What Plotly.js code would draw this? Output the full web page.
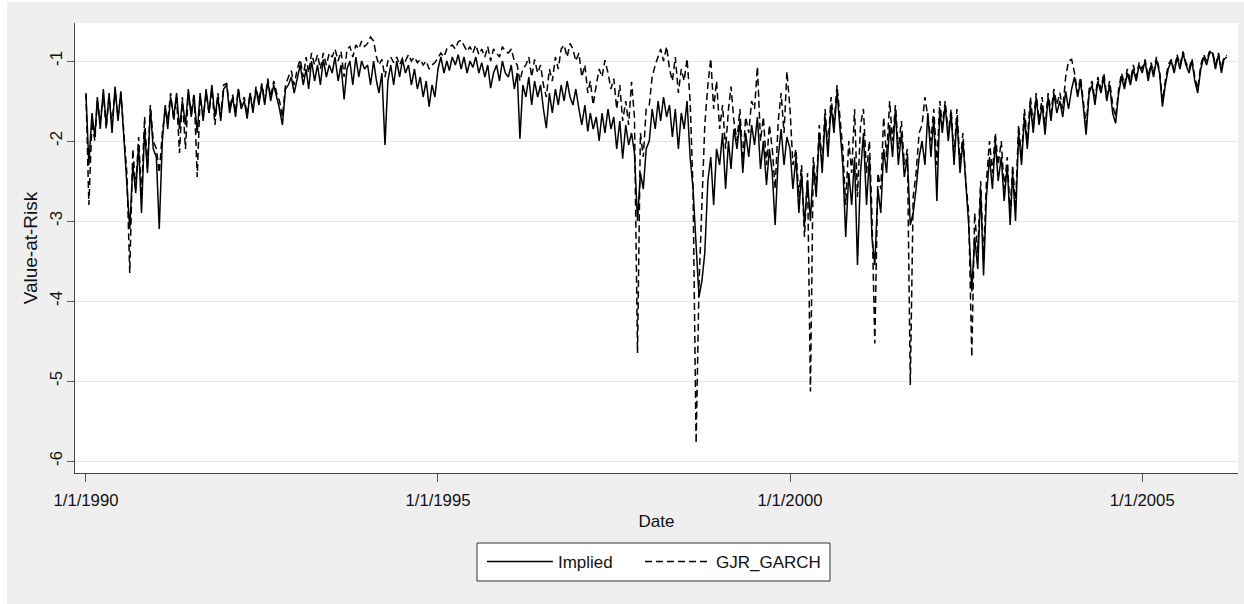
<!DOCTYPE html>
<html>
<head>
<meta charset="utf-8">
<script src="https://cdn.plot.ly/plotly-3.0.1.min.js"></script>
<style>
  html, body { margin: 0; padding: 0; background: #ffffff; }
  #chart { position: absolute; left: 7px; top: 2px; width: 1237px; height: 602px; }
</style>
</head>
<body>
<div id="chart"></div>
<script>
// Semi-monthly observations (1st and 16th of each month), starting 1990-01-01
const startYear = 1990;

// Implied-volatility based Value-at-Risk (solid line)
const implied = [
  /*1990*/ -1.42, -2.30, -1.65, -1.95, -1.45, -1.85, -1.35, -1.80, -1.40, -1.90, -1.32, -1.75, -1.38, -1.95, -2.55, -3.10, -2.30, -2.65, -2.05, -2.90, -1.85, -2.40, -1.60, -2.10,
  /*1991*/ -2.20, -3.10, -2.00, -1.55, -1.85, -1.45, -1.70, -1.40, -1.85, -1.50, -1.80, -1.35, -1.70, -1.45, -1.90, -1.40, -1.75, -1.35, -1.65, -1.30, -1.70, -1.45, -1.75, -1.35,
  /*1992*/ -1.30, -1.65, -1.45, -1.70, -1.35, -1.60, -1.50, -1.72, -1.40, -1.65, -1.35, -1.55, -1.30, -1.55, -1.25, -1.50, -1.30, -1.45, -1.60, -1.80, -1.35, -1.30, -1.20, -1.40,
  /*1993*/ -1.20, -1.05, -1.30, -1.10, -1.35, -1.00, -1.25, -1.05, -1.30, -0.98, -1.20, -1.05, -1.15, -0.95, -1.25, -1.05, -1.48, -1.10, -1.00, -1.30, -0.95, -1.20, -1.00, -1.10,
  /*1994*/ -1.05, -1.30, -1.00, -1.25, -1.40, -1.15, -2.05, -1.25, -1.05, -1.30, -1.00, -1.20, -0.98, -1.15, -1.05, -1.30, -1.10, -1.35, -1.20, -1.45, -1.25, -1.57, -1.30, -1.45,
  /*1995*/ -1.10, -0.95, -1.15, -1.00, -1.12, -0.95, -1.05, -0.92, -1.10, -0.95, -1.15, -1.00, -1.08, -0.95, -1.15, -1.02, -1.20, -1.05, -1.34, -1.15, -1.05, -1.25, -1.00, -1.15,
  /*1996*/ -1.20, -1.05, -1.35, -1.15, -1.97, -1.30, -1.45, -1.20, -1.55, -1.25, -1.45, -1.30, -1.60, -1.84, -1.40, -1.65, -1.35, -1.55, -1.30, -1.50, -1.25, -1.45, -1.55, -1.35,
  /*1997*/ -1.60, -1.80, -1.55, -1.88, -1.65, -1.85, -1.70, -2.00, -1.65, -1.90, -1.60, -1.85, -1.70, -2.10, -1.75, -2.22, -1.80, -2.05, -1.90, -2.15, -3.00, -2.40, -2.60, -2.10,
  /*1998*/ -2.00, -1.60, -1.85, -1.50, -1.75, -1.45, -1.70, -1.55, -1.95, -1.60, -2.10, -1.65, -1.85, -1.50, -2.20, -2.60, -3.30, -3.95, -3.75, -3.40, -2.50, -2.20, -2.80, -2.10,
  /*1999*/ -2.30, -1.90, -2.60, -2.00, -2.35, -1.85, -2.10, -1.75, -2.40, -1.90, -2.20, -1.80, -2.05, -1.70, -2.35, -2.00, -2.55, -2.10, -2.40, -3.05, -2.20, -1.85, -2.30, -1.95,
  /*2000*/ -2.10, -2.60, -2.20, -2.90, -2.40, -3.05, -2.50, -3.00, -2.30, -2.70, -1.90, -2.40, -1.70, -2.20, -1.55, -1.90, -1.38, -1.80, -2.30, -3.20, -2.40, -2.80, -2.20, -3.55,
  /*2001*/ -2.40, -1.90, -2.80, -2.20, -3.20, -3.55, -2.60, -2.90, -2.10, -2.40, -1.80, -2.20, -1.60, -2.30, -1.90, -2.45, -2.20, -3.05, -2.90, -2.60, -2.20, -2.00, -2.30, -1.65,
  /*2002*/ -2.20, -1.70, -2.75, -1.60, -1.90, -1.55, -2.00, -1.65, -2.30, -1.70, -2.40, -2.00, -2.60, -3.05, -3.88, -3.20, -3.60, -2.60, -3.68, -2.70, -2.20, -2.60, -2.00, -2.50,
  /*2003*/ -2.20, -2.75, -2.30, -3.05, -2.40, -3.00, -1.90, -2.30, -1.70, -2.10, -1.55, -1.90, -1.45, -1.80, -1.55, -1.92, -1.45, -1.75, -1.40, -1.65, -1.50, -1.70, -1.38, -1.60,
  /*2004*/ -1.35, -1.20, -1.45, -1.25, -1.55, -1.92, -1.40, -1.30, -1.55, -1.25, -1.40, -1.20, -1.50, -1.30, -1.65, -1.78, -1.40, -1.20, -1.35, -1.15, -1.30, -1.10, -1.25, -1.05,
  /*2005*/ -1.15, -1.00, -1.25, -1.05, -1.20, -0.98, -1.15, -1.57, -1.30, -1.10, -1.00, -1.15, -0.95, -1.10, -0.90, -1.05, -1.15, -1.00, -1.25, -1.40, -1.10, -0.95, -1.05, -0.90,
  /*2006*/ -0.90, -1.10, -0.92, -1.15, -0.98, -0.95
];

// GJR-GARCH based Value-at-Risk (dashed line)
const gjrGarch = [
  /*1990*/ -1.40, -2.80, -1.75, -2.00, -1.50, -1.75, -1.42, -1.85, -1.45, -1.80, -1.35, -1.70, -1.40, -1.85, -2.40, -3.65, -2.10, -2.60, -1.95, -2.70, -1.70, -2.35, -1.55, -2.00,
  /*1991*/ -2.10, -2.40, -1.90, -1.60, -1.75, -1.40, -1.75, -1.45, -2.15, -1.45, -2.10, -1.40, -1.65, -1.40, -2.45, -1.45, -1.70, -1.40, -1.65, -1.35, -1.80, -1.40, -1.70, -1.30,
  /*1992*/ -1.28, -1.60, -1.42, -1.65, -1.35, -1.55, -1.45, -1.68, -1.40, -1.60, -1.32, -1.50, -1.28, -1.50, -1.22, -1.45, -1.25, -1.40, -1.50, -1.70, -1.30, -1.20, -1.12, -1.30,
  /*1993*/ -1.10, -0.98, -1.20, -0.95, -1.15, -0.90, -1.05, -0.92, -1.10, -0.90, -1.05, -0.90, -0.95, -0.85, -1.00, -0.88, -1.20, -0.85, -0.82, -0.95, -0.80, -0.85, -0.75, -0.82,
  /*1994*/ -0.78, -0.70, -0.75, -0.95, -1.05, -0.98, -1.20, -1.00, -0.95, -1.02, -0.95, -1.05, -0.96, -1.00, -0.92, -1.00, -0.95, -1.02, -0.98, -1.05, -1.00, -1.10, -1.05, -1.02,
  /*1995*/ -0.95, -0.90, -0.95, -0.85, -0.82, -0.80, -0.85, -0.76, -0.74, -0.80, -0.88, -0.82, -0.90, -0.80, -0.92, -0.85, -0.95, -0.82, -1.00, -0.85, -0.90, -0.95, -0.82, -0.88,
  /*1996*/ -0.90, -0.85, -1.00, -1.05, -1.25, -1.10, -1.05, -0.95, -1.20, -0.98, -1.15, -1.05, -1.30, -1.45, -1.10, -1.25, -0.95, -1.10, -0.85, -0.80, -0.95, -0.78, -0.85, -1.00,
  /*1997*/ -0.90, -1.20, -1.05, -1.40, -1.25, -1.55, -1.30, -1.10, -1.20, -0.99, -1.15, -1.35, -1.22, -1.60, -1.30, -1.75, -1.50, -1.80, -1.26, -1.70, -4.65, -1.90, -2.20, -1.60,
  /*1998*/ -1.55, -1.20, -1.05, -0.95, -0.85, -1.00, -0.82, -1.10, -1.25, -0.95, -1.40, -1.10, -1.25, -0.97, -1.50, -2.60, -5.78, -3.80, -2.70, -1.80, -1.30, -0.97, -1.60, -1.25,
  /*1999*/ -1.85, -1.55, -2.10, -1.60, -1.32, -1.75, -2.00, -1.60, -2.25, -1.70, -1.90, -1.50, -1.60, -1.07, -2.00, -1.70, -2.30, -1.80, -2.10, -2.60, -1.75, -1.40, -1.90, -1.13,
  /*2000*/ -1.60, -2.30, -2.10, -2.70, -2.30, -3.20, -2.40, -5.13, -2.20, -2.60, -1.80, -2.30, -1.60, -2.10, -1.45, -1.80, -1.30, -1.70, -2.10, -2.80, -2.00, -2.40, -1.60, -2.70,
  /*2001*/ -1.80, -1.60, -2.40, -2.00, -2.90, -4.53, -2.40, -2.60, -1.70, -2.20, -1.50, -2.00, -1.55, -2.10, -1.75, -2.30, -2.10, -5.05, -2.70, -2.40, -1.90, -1.80, -1.45, -1.70,
  /*2002*/ -2.00, -1.60, -2.30, -1.50, -1.80, -1.50, -1.90, -1.60, -2.20, -1.60, -2.30, -1.90, -2.50, -2.90, -4.70, -2.90, -3.40, -2.50, -3.50, -2.50, -2.00, -2.40, -1.90, -2.30,
  /*2003*/ -2.00, -2.60, -2.20, -2.90, -2.30, -2.80, -1.80, -2.20, -1.60, -2.00, -1.45, -1.80, -1.40, -1.75, -1.45, -1.85, -1.40, -1.65, -1.35, -1.55, -1.40, -1.60, -1.20, -1.00,
  /*2004*/ -0.98, -1.15, -1.40, -1.20, -1.50, -1.80, -1.35, -1.25, -1.50, -1.20, -1.35, -1.15, -1.45, -1.25, -1.55, -1.70, -1.35, -1.15, -1.30, -1.10, -1.25, -1.05, -1.20, -1.02,
  /*2005*/ -1.10, -0.98, -1.20, -1.02, -1.15, -0.95, -1.12, -1.50, -1.25, -1.05, -0.98, -1.12, -0.92, -1.05, -0.88, -1.02, -1.10, -0.97, -1.20, -1.35, -1.05, -0.92, -1.00, -0.88,
  /*2006*/ -0.88, -1.05, -0.90, -1.10, -0.95, -0.93
];

const seriesNames = ['Implied', 'GJR_GARCH'];
const xTickDates = ['1990-01-01', '1995-01-01', '2000-01-01', '2005-01-01'];
const xTickLabels = ['1/1/1990', '1/1/1995', '1/1/2000', '1/1/2005'];
const yTickVals = [-6, -5, -4, -3, -2, -1];
const yTickLabels = ['-6', '-5', '-4', '-3', '-2', '-1'];

// semi-monthly date grid
const dates = [];
for (let i = 0; i < implied.length; i++) {
  const yr = startYear + Math.floor(i / 24);
  const mo = Math.floor((i % 24) / 2) + 1;
  const dy = (i % 2) ? '16' : '01';
  dates.push(yr + '-' + String(mo).padStart(2, '0') + '-' + dy);
}

const traces = [
  { x: dates, y: implied, name: seriesNames[0], type: 'scatter', mode: 'lines',
    line: { color: '#000000', width: 1.5 }, legend: 'legend' },
  { x: dates, y: gjrGarch, name: seriesNames[1], type: 'scatter', mode: 'lines',
    line: { color: '#000000', width: 1.5, dash: '7px,4px' }, legend: 'legend2' }
];

const font = 'Liberation Sans, Arial, Helvetica, sans-serif';
const txt = '#111111';
const legendFont = { family: font, size: 17, color: txt };

const layout = {
  width: 1237, height: 602,
  paper_bgcolor: '#efefef', plot_bgcolor: '#ffffff',
  margin: { l: 68, r: 6, t: 21, b: 131, pad: 0 },
  font: { family: font, size: 16.7, color: txt },
  showlegend: true,
  xaxis: {
    type: 'date', range: ['1989-11-05', '2006-05-13'],
    tickmode: 'array', tickvals: xTickDates, ticktext: xTickLabels,
    ticks: 'outside', ticklen: 8, tickwidth: 1, tickcolor: '#555555',
    ticklabelstandoff: 4,
    showline: true, linecolor: '#444444', linewidth: 1,
    showgrid: false, zeroline: false,
    tickfont: { family: font, size: 16.7, color: txt },
    title: { text: 'Date', font: { family: font, size: 17, color: txt }, standoff: 6 }
  },
  yaxis: {
    range: [-6.15, -0.525],
    tickmode: 'array', tickvals: yTickVals, ticktext: yTickLabels, tickangle: -90,
    ticks: 'outside', ticklen: 7, tickwidth: 1, tickcolor: '#555555',
    ticklabelstandoff: -2,
    showline: true, linecolor: '#444444', linewidth: 1,
    showgrid: true, gridcolor: '#e6e6e6', gridwidth: 1, zeroline: false,
    tickfont: { family: font, size: 16.7, color: txt },
    title: { text: 'Value-at-Risk', font: { family: font, size: 19, color: txt }, standoff: 4 }
  },
  shapes: [
    { type: 'rect', xref: 'paper', yref: 'paper', layer: 'above',
      x0: 0.34566, x1: 0.64918, y0: -0.24, y1: -0.15556,
      fillcolor: '#ffffff', line: { color: '#333333', width: 1 } }
  ],
  legend: {
    orientation: 'h', x: 0.3499, xanchor: 'left', y: -0.1978, yanchor: 'middle',
    bgcolor: 'rgba(0,0,0,0)', borderwidth: 0, font: legendFont, itemwidth: 66
  },
  legend2: {
    orientation: 'h', x: 0.4858, xanchor: 'left', y: -0.1978, yanchor: 'middle',
    bgcolor: 'rgba(0,0,0,0)', borderwidth: 0, font: legendFont, itemwidth: 66
  }
};

Plotly.newPlot('chart', traces, layout, { displayModeBar: false, staticPlot: true });
</script>
</body>
</html>
